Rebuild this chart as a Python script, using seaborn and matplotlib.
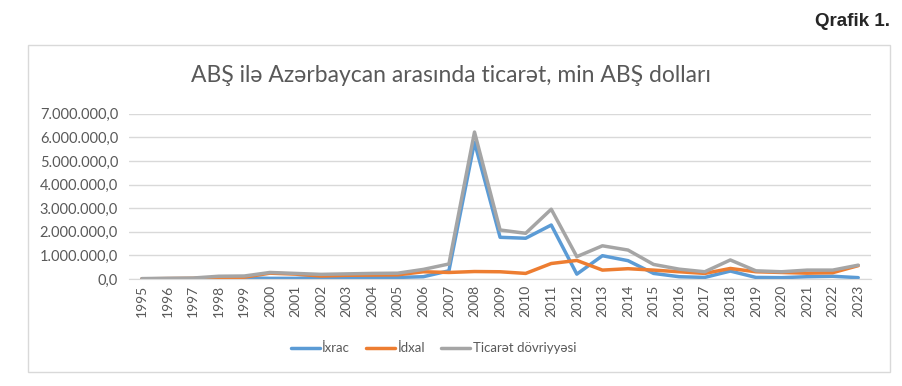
import pandas as pd
import matplotlib.pyplot as plt
import seaborn as sns
from matplotlib.ticker import FuncFormatter
from matplotlib.patches import Rectangle

years = list(range(1995, 2024))

# min ABŞ dolları
ixrac = [10, 15, 15, 40, 50, 30, 30, 70, 60, 70, 70, 100, 350, 5800, 1770,
         1730, 2290, 210, 990, 780, 240, 100, 70, 340, 70, 60, 100, 120, 60]
idxal = [10, 20, 30, 60, 80, 250, 210, 130, 160, 170, 180, 310, 280, 320, 310,
         240, 660, 790, 380, 440, 380, 310, 240, 450, 310, 280, 250, 270, 570]
dovriyye = [20, 35, 45, 120, 130, 280, 240, 200, 220, 240, 250, 410, 640, 6230, 2080,
            1940, 2960, 950, 1410, 1230, 620, 420, 310, 810, 350, 310, 380, 380, 590]

series_names = ['İxrac', 'İdxal', 'Ticarət dövriyyəsi']
colors = ['#5B9BD5', '#ED7D31', '#A5A5A5']

df = pd.DataFrame({'İl': years, series_names[0]: ixrac,
                   series_names[1]: idxal, series_names[2]: dovriyye})
long = df.melt(id_vars='İl', var_name='Seriya', value_name='Dəyər')
long['Dəyər'] = long['Dəyər'] * 1000
long['pos'] = long['İl'] - years[0]

sns.set_style('white')
plt.rcParams['font.family'] = ['Lato', 'DejaVu Sans']

fig = plt.figure(figsize=(9.03, 3.86), dpi=100)
ax = fig.add_axes([0.143, 0.277, 0.8216, 0.428])

sns.lineplot(data=long, x='pos', y='Dəyər', hue='Seriya', hue_order=series_names,
             palette=colors, linewidth=2.5, ax=ax, legend=False)

ax.set_xlim(-0.5, len(years) - 0.5)
ax.set_ylim(0, 7000000)
ax.set_xticks(range(len(years)))
ax.set_xticklabels([str(y) for y in years], rotation=90, fontsize=10, color='#595959')
ax.set_yticks(range(0, 7000001, 1000000))
ax.yaxis.set_major_formatter(FuncFormatter(
    lambda v, p: f'{v:,.1f}'.replace(',', ' ').replace('.', ',').replace(' ', '.')))
ax.tick_params(axis='y', labelsize=10.5, labelcolor='#595959', length=0, pad=8)
ax.tick_params(axis='x', length=0, pad=4)
ax.set_xlabel('')
ax.set_ylabel('')
ax.grid(axis='y', color='#D9D9D9', linewidth=1)
ax.set_axisbelow(True)
for s in ['top', 'right', 'left']:
    ax.spines[s].set_visible(False)
ax.spines['bottom'].set_color('#D9D9D9')

handles = [plt.Line2D([], [], color=c, linewidth=2.5) for c in colors]
fig.legend(handles, series_names, loc='center', bbox_to_anchor=(0.48, 0.098), ncol=3,
           frameon=False, fontsize=9.5, handlelength=2.2, handletextpad=0.2,
           columnspacing=1.2, labelcolor='#595959')

fig.text(0.5, 0.805, 'ABŞ ilə Azərbaycan arasında ticarət, min ABŞ dolları',
         ha='center', va='center', fontsize=16.5, color='#595959')
fig.text(0.986, 0.945, 'Qrafik 1.', ha='right', va='center', fontsize=13.5,
         fontweight='bold', family='Liberation Sans')

fig.patches.append(Rectangle((28 / 903, 1 - 372 / 386), (890 - 28) / 903, (372 - 45) / 386,
                             transform=fig.transFigure, fill=False,
                             edgecolor='#D9D9D9', linewidth=1))

plt.savefig('out.png', dpi=100)
